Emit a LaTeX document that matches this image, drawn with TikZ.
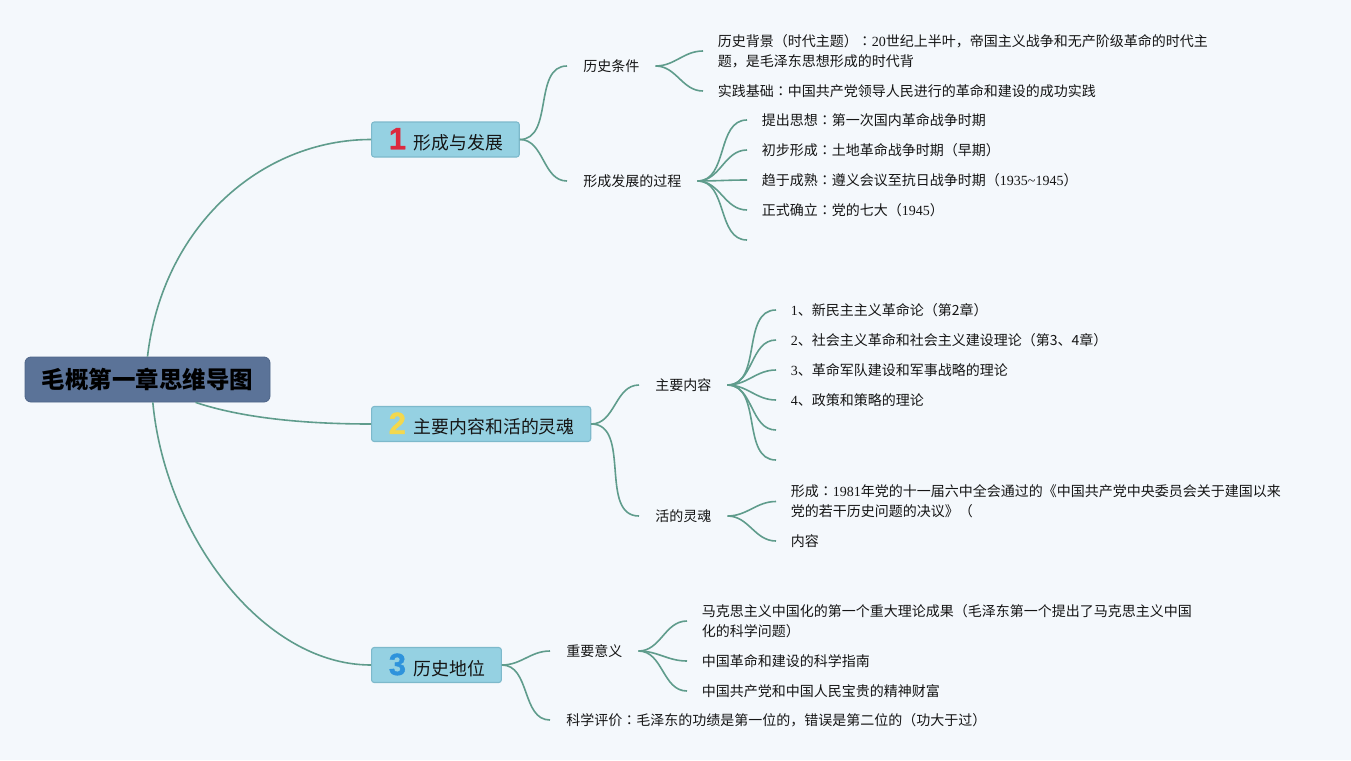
\documentclass[tikz,border=0pt]{standalone}
\usepackage{fontspec}
\setmainfont{Noto Sans CJK SC}
\newfontfamily\tcf{Noto Sans CJK TC}
\newfontfamily\lat{Liberation Serif}
\newfontfamily\numf[UprightFont=* Bold,FakeBold=1.3]{Liberation Sans}
\usetikzlibrary{calc}
\definecolor{bgc}{HTML}{F4F8FC}
\definecolor{linec}{HTML}{5F9C8C}
\definecolor{rootc}{HTML}{5B7398}
\definecolor{rootb}{HTML}{4E6588}
\definecolor{boxc}{HTML}{95D1E2}
\definecolor{boxb}{HTML}{7DB9CB}
\definecolor{txt}{HTML}{151515}
\definecolor{nred}{HTML}{DC2A3F}
\definecolor{nyel}{HTML}{F3D84E}
\definecolor{nblu}{HTML}{2E93DC}
\tikzset{
  rootbox/.style={draw=rootb, line width=0.6pt, fill=rootc, rounded corners=4.5pt, minimum width=183.75pt, minimum height=33.75pt, inner sep=0pt, text=black, font=\fontsize{17.6}{20}\selectfont\bfseries},
  topicbox/.style={draw=boxb, line width=0.8pt, fill=boxc, rounded corners=2pt, minimum height=26.25pt, inner ysep=0pt, inner xsep=12pt, anchor=west, text=txt, font=\fontsize{13.4}{16}\selectfont},
  sublabel/.style={inner xsep=12pt, inner ysep=2pt, anchor=west, text=txt, font=\fontsize{10.5}{15}\selectfont},
  leaf/.style={inner xsep=11pt, inner ysep=2pt, anchor=west, align=left, text=txt, font=\fontsize{10.5}{15}\selectfont},
  conn/.style={draw=linec, line width=1.2pt},
  fan/.style={conn, out=0, in=180}
}
\newcommand{\bignum}[2]{\hspace{1pt}{\numf\fontsize{23}{23}\selectfont\color{#1}#2}\hspace{6pt}}
\newcommand{\cn}{{\tcf ：}}
\begin{document}
\begin{tikzpicture}[x=0.75pt,y=-0.75pt]
\fill[bgc] (0,0) rectangle (1351,760);
\useasboundingbox (0,0) rectangle (1351,760);

% root
\node[rootbox] (root) at (147.5,379.5) {毛概第一章思维导图};

% main topics
\node[topicbox] (t1) at (371,139.5) {\bignum{nred}{1}形成与发展};
\node[topicbox] (t2) at (371,424) {\bignum{nyel}{2}主要内容和活的灵魂};
\node[topicbox] (t3) at (371,665) {\bignum{nblu}{3}历史地位};

\draw[conn] (root.north) .. controls +(15,-130) and +(-110,0) .. (t1.west);
\draw[conn] ([xshift=36pt]root.south) .. controls +(45,15) and +(-70,0) .. (t2.west);
\draw[conn] ([xshift=4pt]root.south) .. controls +(12,130) and +(-110,0) .. (t3.west);

% topic 1
\node[sublabel] (s11) at (567,66) {历史条件};
\node[sublabel] (s12) at (567,181) {形成发展的过程};
\draw[fan] (t1.east) to (s11.west);
\draw[fan] (t1.east) to (s12.west);

\node[leaf] (l111) at (703,51) {历史背景（时代主题）\cn{\lat 20}世纪上半叶，帝国主义战争和无产阶级革命的时代主\\题，是毛泽东思想形成的时代背};
\node[leaf] (l112) at (703,91) {实践基础\cn 中国共产党领导人民进行的革命和建设的成功实践};
\draw[fan] (s11.east) to (l111.west);
\draw[fan] (s11.east) to (l112.west);

\node[leaf] (l121) at (747,120) {提出思想\cn 第一次国内革命战争时期};
\node[leaf] (l122) at (747,150) {初步形成\cn 土地革命战争时期（早期）};
\node[leaf] (l123) at (747,180) {趋于成熟\cn 遵义会议至抗日战争时期（{\lat 1935\textasciitilde 1945}）};
\node[leaf] (l124) at (747,210) {正式确立\cn 党的七大（{\lat 1945}）};
\coordinate (l125) at (747,240);
\foreach \n in {l121,l122,l123,l124} \draw[fan] (s12.east) to (\n.west);
\draw[fan] (s12.east) to (l125);

% topic 2
\node[sublabel] (s21) at (639,385) {主要内容};
\node[sublabel] (s22) at (639,516) {活的灵魂};
\draw[fan] (t2.east) to (s21.west);
\draw[fan] (t2.east) to (s22.west);

\node[leaf] (l211) at (776,310) {{\lat 1}、新民主主义革命论（第2章）};
\node[leaf] (l212) at (776,340) {{\lat 2}、社会主义革命和社会主义建设理论（第3、4章）};
\node[leaf] (l213) at (776,370) {{\lat 3}、革命军队建设和军事战略的理论};
\node[leaf] (l214) at (776,400) {{\lat 4}、政策和策略的理论};
\coordinate (l215) at (776,430);
\coordinate (l216) at (776,460);
\foreach \n in {l211,l212,l213,l214} \draw[fan] (s21.east) to (\n.west);
\draw[fan] (s21.east) to (l215);
\draw[fan] (s21.east) to (l216);

\node[leaf] (l221) at (776,501.5) {形成\cn{\lat 1981}年党的十一届六中全会通过的《中国共产党中央委员会关于建国以来\\党的若干历史问题的决议》（};
\node[leaf] (l222) at (776,541) {内容};
\draw[fan] (s22.east) to (l221.west);
\draw[fan] (s22.east) to (l222.west);

% topic 3
\node[sublabel] (s31) at (550,651) {重要意义};
\node[sublabel] (s32) at (550,720) {科学评价\cn 毛泽东的功绩是第一位的，错误是第二位的（功大于过）};
\draw[fan] (t3.east) to (s31.west);
\draw[fan] (t3.east) to (s32.west);

\node[leaf] (l311) at (687,621) {马克思主义中国化的第一个重大理论成果（毛泽东第一个提出了马克思主义中国\\化的科学问题）};
\node[leaf] (l312) at (687,661) {中国革命和建设的科学指南};
\node[leaf] (l313) at (687,691) {中国共产党和中国人民宝贵的精神财富};
\draw[fan] (s31.east) to (l311.west);
\draw[fan] (s31.east) to (l312.west);
\draw[fan] (s31.east) to (l313.west);
\end{tikzpicture}
\end{document}
